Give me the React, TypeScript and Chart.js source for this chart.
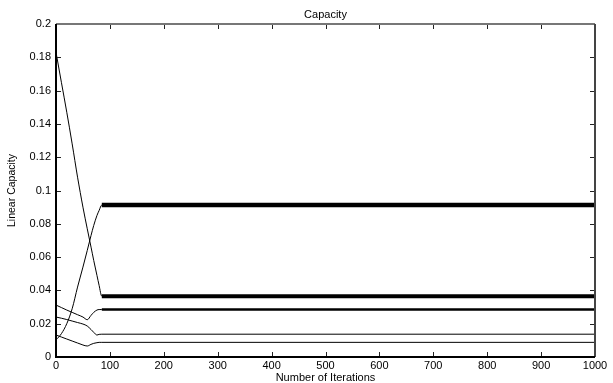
import React, { useEffect, useRef } from "react";
import { Chart, registerables } from "chart.js";

Chart.register(...registerables);

const iterations = [0, 10, 20, 30, 40, 50, 58, 65, 70, 76, 80, 85, 1000];
const capacityA = [0.183, 0.165, 0.147, 0.128, 0.108, 0.09, 0.077, 0.066, 0.058, 0.049, 0.043, 0.0365, 0.0365];
const capacityB = [0.0102, 0.014, 0.02, 0.029, 0.042, 0.054, 0.064, 0.073, 0.079, 0.085, 0.088, 0.0913, 0.0913];
const capacityC = [0.0312, 0.0297, 0.0282, 0.0268, 0.0254, 0.024, 0.0224, 0.025, 0.0268, 0.0282, 0.0285, 0.0285, 0.0285];
const capacityD = [0.024, 0.0233, 0.0225, 0.0216, 0.0207, 0.0198, 0.0186, 0.0165, 0.0148, 0.0132, 0.0136, 0.0137, 0.0137];
const capacityE = [0.0132, 0.012, 0.0108, 0.0096, 0.0084, 0.0072, 0.0066, 0.0076, 0.0082, 0.0086, 0.0088, 0.0088, 0.0088];
const steadyWidths = [4, 4.5, 2.5, 1, 1];
const steadyFrom = 85;

const titleText = "Capacity";
const xTitle = "Number of Iterations";
const yTitle = "Linear Capacity";

const FONT = "'Liberation Sans', Arial, Helvetica, sans-serif";

const framePlugin = {
  id: "frame",
  afterDraw(chart: any) {
    const { ctx, chartArea: a, scales } = chart;
    const xs = scales.x;
    const ys = scales.y;
    ctx.save();
    // title
    ctx.fillStyle = "#000";
    ctx.font = `11px ${FONT}`;
    ctx.textAlign = "center";
    ctx.textBaseline = "middle";
    ctx.fillText(titleText, (a.left + a.right) / 2, 15);
    // ticks
    ctx.lineWidth = 1;
    ctx.strokeStyle = "#222";
    const tl = 5;
    xs.ticks.forEach((t: any) => {
      const px = Math.round(xs.getPixelForValue(t.value)) + 0.5;
      ctx.beginPath();
      ctx.moveTo(px, a.bottom);
      ctx.lineTo(px, a.bottom - tl);
      ctx.moveTo(px, a.top);
      ctx.lineTo(px, a.top + tl);
      ctx.stroke();
    });
    ys.ticks.forEach((t: any) => {
      const py = Math.round(ys.getPixelForValue(t.value)) + 0.5;
      ctx.beginPath();
      ctx.moveTo(a.left, py);
      ctx.lineTo(a.left + tl, py);
      ctx.moveTo(a.right, py);
      ctx.lineTo(a.right - tl, py);
      ctx.stroke();
    });
    // borders
    ctx.lineWidth = 2;
    ctx.strokeStyle = "#777";
    ctx.beginPath();
    ctx.moveTo(a.left, a.top);
    ctx.lineTo(a.right, a.top);
    ctx.stroke();
    ctx.strokeStyle = "#444";
    ctx.beginPath();
    ctx.moveTo(a.right, a.top);
    ctx.lineTo(a.right, a.bottom);
    ctx.stroke();
    ctx.strokeStyle = "#000";
    ctx.beginPath();
    ctx.moveTo(a.left, a.top);
    ctx.lineTo(a.left, a.bottom);
    ctx.lineTo(a.right, a.bottom);
    ctx.stroke();
    ctx.restore();
  },
};

export default function App() {
  const ref = useRef<HTMLCanvasElement | null>(null);
  useEffect(() => {
    if (!ref.current) return;
    const series = [capacityA, capacityB, capacityC, capacityD, capacityE];
    const chart = new Chart(ref.current, {
      type: "line",
      data: {
        datasets: series.map((vals, i) => ({
          label: `Path ${i + 1}`,
          data: iterations.map((x, k) => ({ x, y: vals[k] })),
          borderColor: "#000",
          borderWidth: 1,
          pointRadius: 0,
          cubicInterpolationMode: "monotone",
          segment: {
            borderWidth: (ctx: any) => (ctx.p0.parsed.x >= steadyFrom ? steadyWidths[i] : 1),
          },
        })),
      },
      options: {
        animation: false,
        responsive: false,
        layout: { padding: { left: 0, right: 18, top: 24, bottom: 0 } },
        plugins: { legend: { display: false }, title: { display: false }, tooltip: { enabled: false } },
        scales: {
          x: {
            type: "linear",
            min: 0,
            max: 1000,
            afterFit: (s: any) => { s.height = 26; },
            grid: { display: false, drawTicks: false },
            border: { display: false },
            ticks: {
              stepSize: 100,
              padding: 2,
              color: "#000",
              font: { family: FONT, size: 11 },
              maxRotation: 0,
              callback: (v: any) => String(v),
            },
            title: { display: true, text: xTitle, color: "#000", font: { family: FONT, size: 11, lineHeight: 1 }, padding: { top: 0, bottom: 0 } },
          },
          y: {
            type: "linear",
            min: 0,
            max: 0.2,
            afterFit: (s: any) => { s.width = 56; },
            grid: { display: false, drawTicks: false },
            border: { display: false },
            ticks: {
              stepSize: 0.02,
              padding: 5,
              color: "#000",
              font: { family: FONT, size: 11 },
              callback: (v: any) => String(Number(Number(v).toFixed(2))),
            },
            title: { display: true, text: yTitle, color: "#000", font: { family: FONT, size: 10.5 }, padding: { top: 6, bottom: 0 } },
          },
        },
      },
      plugins: [framePlugin],
    } as any);
    return () => chart.destroy();
  }, []);
  return (
    <div style={{ position: "absolute", left: 0, top: 0, width: 613, height: 383, background: "#fff" }}>
      <canvas ref={ref} width={613} height={383} style={{ display: "block" }} />
    </div>
  );
}
